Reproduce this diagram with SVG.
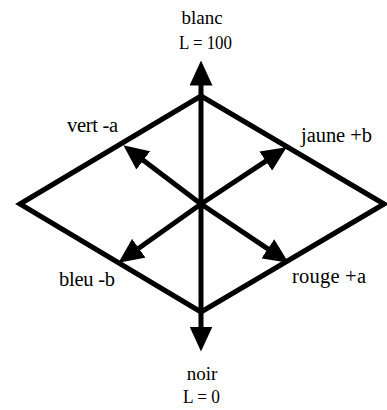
<svg xmlns="http://www.w3.org/2000/svg" width="387" height="410" viewBox="0 0 387 410">
<style>
  text { font-family: 'Liberation Serif', 'Times New Roman', Times, 'DejaVu Serif', serif; fill: #000; }
  .tb { font-size: 19px; text-anchor: middle; }
  .sd { font-size: 20.5px; }
  .edge { fill: none; stroke: #000; stroke-width: 5; stroke-linejoin: miter; }
  .ax { stroke: #000; stroke-width: 5; fill: none; marker-end: url(#ah); }
</style>
<defs>
  <marker id="ah" markerUnits="userSpaceOnUse" viewBox="0 0 25 23" refX="0.5" refY="11.5" markerWidth="25" markerHeight="23" orient="auto">
    <path d="M0,0 L25,11.5 L0,23 z" fill="#000"/>
  </marker>
</defs>
<rect width="387" height="410" fill="#fff"/>
<g id="diamond">
  <polygon class="edge" points="20,204 201,96 384,204 201,312"/>
</g>
<g id="connectors">
  <line class="ax" x1="201" y1="204" x2="201" y2="85"/>
  <line class="ax" x1="201" y1="204" x2="201" y2="327"/>
  <line class="ax" x1="201" y1="204" x2="142.9" y2="160.1"/>
  <line class="ax" x1="201" y1="204" x2="266.2" y2="160.8"/>
  <line class="ax" x1="201" y1="204" x2="138.4" y2="248.5"/>
  <line class="ax" x1="201" y1="204" x2="268.2" y2="249.1"/>
</g>
<g id="blanc">
  <text class="tb" x="202" y="24">blanc</text>
  <text class="tb" x="205.5" y="49" textLength="53" lengthAdjust="spacingAndGlyphs">L = 100</text>
</g>
<g id="noir">
  <text class="tb" x="202" y="380">noir</text>
  <text class="tb" x="201.5" y="403" textLength="37" lengthAdjust="spacingAndGlyphs">L = 0</text>
</g>
<g id="vert">
  <text class="sd" x="67" y="132" textLength="51">vert -a</text>
</g>
<g id="jaune">
  <text class="sd" x="301" y="142" textLength="71">jaune +b</text>
</g>
<g id="bleu">
  <text class="sd" x="59" y="286" textLength="56">bleu -b</text>
</g>
<g id="rouge">
  <text class="sd" x="292" y="283" textLength="74">rouge +a</text>
</g>
</svg>
